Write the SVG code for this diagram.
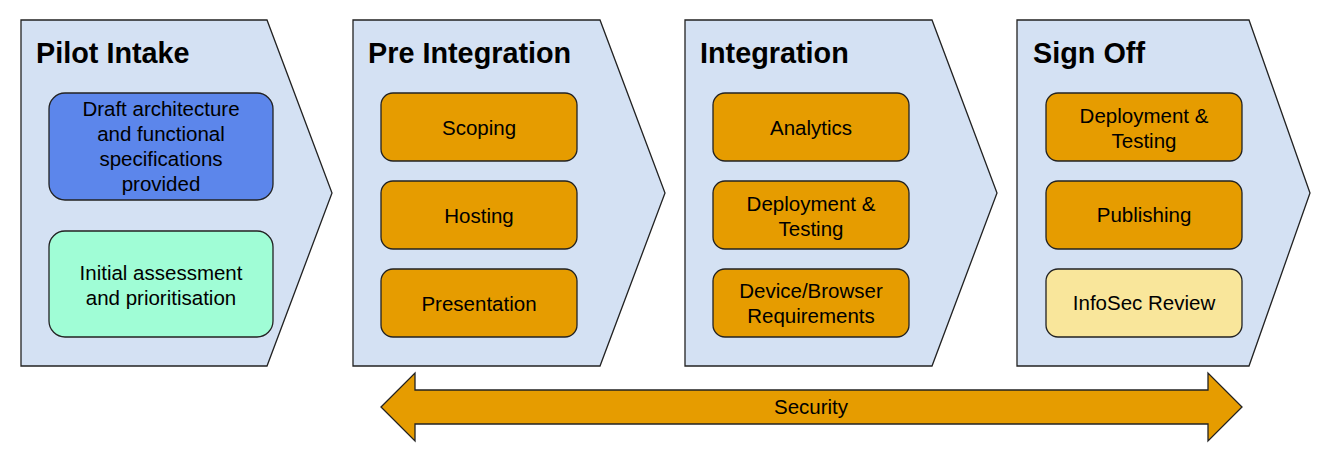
<svg xmlns="http://www.w3.org/2000/svg" width="1330" height="456" viewBox="0 0 1330 456">
<style>
.chev{fill:#d4e1f3;stroke:#222;stroke-width:1.3;stroke-linejoin:miter}
.box{stroke:#222;stroke-width:1.3}
.or{fill:#e69c00}
.bl{fill:#5c86eb}
.mt{fill:#a0fdd6}
.ye{fill:#f9e69b}
.title{font-family:"Liberation Sans",Arial,sans-serif;font-weight:bold;font-size:28.8px;fill:#000}
.t{font-family:"Liberation Sans",Arial,sans-serif;font-size:20.5px;fill:#000;text-anchor:middle}
.arrow{fill:#e69c00;stroke:#222;stroke-width:1.3}
</style>
<rect width="1330" height="456" fill="#fff"/>
<g id="pilot-intake">
<polygon class="chev" points="21,20 267,20 332,193 267,366 21,366"/>
<text class="title" x="36" y="63">Pilot Intake</text>
<g id="draft-architecture">
<rect class="box bl" x="49" y="93" width="224" height="107" rx="16"/>
<text class="t" x="161" y="115.5">Draft architecture</text>
<text class="t" x="161" y="140.5">and functional</text>
<text class="t" x="161" y="165.5">specifications</text>
<text class="t" x="161" y="190.5">provided</text>
</g>
<g id="initial-assessment">
<rect class="box mt" x="49" y="231" width="224" height="106" rx="16"/>
<text class="t" x="161" y="280">Initial assessment</text>
<text class="t" x="161" y="305">and prioritisation</text>
</g>
</g>
<g id="pre-integration">
<polygon class="chev" points="353,20 600,20 665,193 600,366 353,366"/>
<text class="title" x="368" y="63">Pre Integration</text>
<g id="scoping"><rect class="box or" x="381" y="93" width="196" height="68" rx="12"/><text class="t" x="479" y="135">Scoping</text></g>
<g id="hosting"><rect class="box or" x="381" y="181" width="196" height="68" rx="12"/><text class="t" x="479" y="223">Hosting</text></g>
<g id="presentation"><rect class="box or" x="381" y="269" width="196" height="68" rx="12"/><text class="t" x="479" y="311">Presentation</text></g>
</g>
<g id="integration">
<polygon class="chev" points="685,20 932,20 997,193 932,366 685,366"/>
<text class="title" x="700" y="63">Integration</text>
<g id="analytics"><rect class="box or" x="713" y="93" width="196" height="68" rx="12"/><text class="t" x="811" y="135">Analytics</text></g>
<g id="deployment-testing-1"><rect class="box or" x="713" y="181" width="196" height="68" rx="12"/><text class="t" x="811" y="211">Deployment &amp;</text><text class="t" x="811" y="236">Testing</text></g>
<g id="device-browser"><rect class="box or" x="713" y="269" width="196" height="68" rx="12"/><text class="t" x="811" y="298">Device/Browser</text><text class="t" x="811" y="323">Requirements</text></g>
</g>
<g id="sign-off">
<polygon class="chev" points="1017,20 1249,20 1310,193 1249,366 1017,366"/>
<text class="title" x="1033" y="63">Sign Off</text>
<g id="deployment-testing-2"><rect class="box or" x="1046" y="93" width="196" height="68" rx="12"/><text class="t" x="1144" y="123">Deployment &amp;</text><text class="t" x="1144" y="148">Testing</text></g>
<g id="publishing"><rect class="box or" x="1046" y="181" width="196" height="68" rx="12"/><text class="t" x="1144" y="222">Publishing</text></g>
<g id="infosec-review"><rect class="box ye" x="1046" y="269" width="196" height="68" rx="12"/><text class="t" x="1144" y="310">InfoSec Review</text></g>
</g>
<g id="connectors">
<g id="security">
<polygon class="arrow" points="381,407 415,373 415,390 1208,390 1208,373 1242,407 1208,441 1208,424 415,424 415,441"/>
<text class="t" x="811" y="414">Security</text>
</g>
</g>
</svg>
